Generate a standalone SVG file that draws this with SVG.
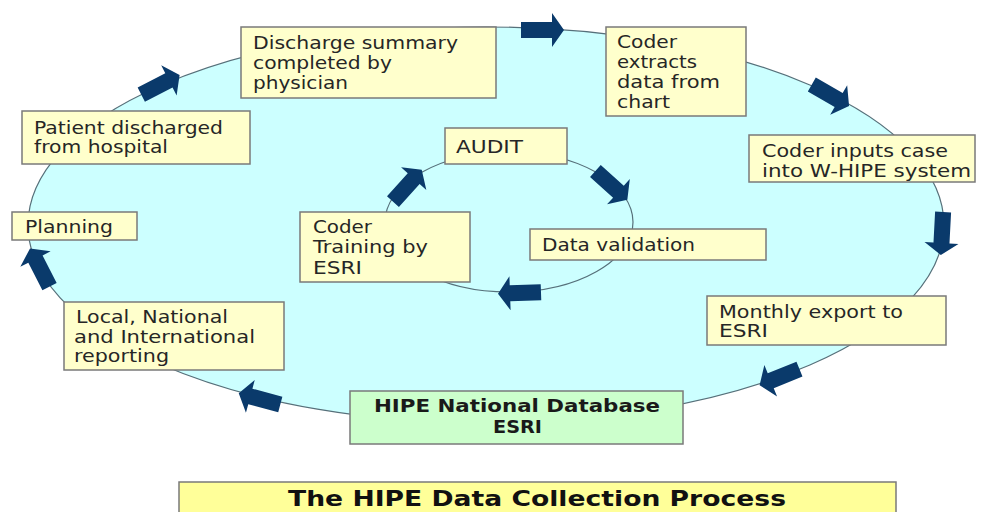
<svg xmlns="http://www.w3.org/2000/svg" width="992" height="512" viewBox="0 0 992 512">
<style>
.box{fill:#FFFFCC;stroke:#7a7a7a;stroke-width:1.5}
.gbox{fill:#CCFFCC;stroke:#7a7a7a;stroke-width:1.5}
.tbox{fill:#FFFF99;stroke:#7a7a7a;stroke-width:1.5}
.t{font-family:"DejaVu Sans",Verdana,sans-serif;font-size:18px;fill:#262626}
.b{font-family:"DejaVu Sans",Verdana,sans-serif;font-size:17px;font-weight:bold;fill:#1a1a1a}
.title{font-family:"DejaVu Sans",Verdana,sans-serif;font-size:22px;font-weight:bold;fill:#111}
.ring{fill:none;stroke:#56707a;stroke-width:1.2}
.arr{fill:#0A3A6B}
</style>
<defs>
<path id="ar" d="M-21,-8 L10,-8 L10,-17 L22,0 L10,17 L10,8 L-21,8 Z"/>
</defs>
<rect width="992" height="512" fill="#ffffff"/>
<ellipse cx="486" cy="225" rx="458" ry="198" fill="#CCFFFF" stroke="#56707a" stroke-width="1.2"/>
<g id="connectors">
<ellipse class="ring" cx="509" cy="222" rx="124" ry="70"/>
<use href="#ar" class="arr" transform="translate(542,30) rotate(0)"/>
<use href="#ar" class="arr" transform="translate(160,85) rotate(-27)"/>
<use href="#ar" class="arr" transform="translate(830,95) rotate(30)"/>
<use href="#ar" class="arr" transform="translate(942,233) rotate(93)"/>
<use href="#ar" class="arr" transform="translate(780,377) rotate(158)"/>
<use href="#ar" class="arr" transform="translate(260,399) rotate(195)"/>
<use href="#ar" class="arr" transform="translate(40,268) rotate(-117)"/>
<use href="#ar" class="arr" transform="translate(611,185) rotate(42)"/>
<use href="#ar" class="arr" transform="translate(520,293) rotate(178)"/>
<use href="#ar" class="arr" transform="translate(407,186) rotate(-48)"/>
</g>
<g id="discharge-summary">
<rect class="box" x="241" y="27" width="255" height="71"/>
<text class="t" x="253" y="49" textLength="205" lengthAdjust="spacingAndGlyphs">Discharge summary</text>
<text class="t" x="253" y="69" textLength="139" lengthAdjust="spacingAndGlyphs">completed by</text>
<text class="t" x="253" y="89" textLength="95" lengthAdjust="spacingAndGlyphs">physician</text>
</g>
<g id="coder-extracts">
<rect class="box" x="606" y="27" width="140" height="89"/>
<text class="t" x="617" y="48" textLength="60" lengthAdjust="spacingAndGlyphs">Coder</text>
<text class="t" x="617" y="68" textLength="80" lengthAdjust="spacingAndGlyphs">extracts</text>
<text class="t" x="617" y="88" textLength="103" lengthAdjust="spacingAndGlyphs">data from</text>
<text class="t" x="617" y="108" textLength="53" lengthAdjust="spacingAndGlyphs">chart</text>
</g>
<g id="patient-discharged">
<rect class="box" x="22" y="111" width="228" height="53"/>
<text class="t" x="34" y="134" textLength="189" lengthAdjust="spacingAndGlyphs">Patient discharged</text>
<text class="t" x="34" y="153" textLength="134" lengthAdjust="spacingAndGlyphs">from hospital</text>
</g>
<g id="coder-inputs">
<rect class="box" x="749" y="135" width="226" height="47"/>
<text class="t" x="762" y="157" textLength="186" lengthAdjust="spacingAndGlyphs">Coder inputs case</text>
<text class="t" x="762" y="177" textLength="209" lengthAdjust="spacingAndGlyphs">into W-HIPE system</text>
</g>
<g id="audit">
<rect class="box" x="445" y="128" width="122" height="36"/>
<text class="t" x="456" y="153" textLength="67" lengthAdjust="spacingAndGlyphs">AUDIT</text>
</g>
<g id="planning">
<rect class="box" x="12" y="212" width="125" height="28"/>
<text class="t" x="25" y="233" textLength="88" lengthAdjust="spacingAndGlyphs">Planning</text>
</g>
<g id="coder-training">
<rect class="box" x="300" y="212" width="170" height="70"/>
<text class="t" x="313" y="233" textLength="59" lengthAdjust="spacingAndGlyphs">Coder</text>
<text class="t" x="313" y="253" textLength="115" lengthAdjust="spacingAndGlyphs">Training by</text>
<text class="t" x="313" y="274" textLength="49" lengthAdjust="spacingAndGlyphs">ESRI</text>
</g>
<g id="data-validation">
<rect class="box" x="530" y="229" width="236" height="31"/>
<text class="t" x="542" y="251" textLength="153" lengthAdjust="spacingAndGlyphs">Data validation</text>
</g>
<g id="monthly-export">
<rect class="box" x="707" y="296" width="239" height="49"/>
<text class="t" x="719" y="318" textLength="184" lengthAdjust="spacingAndGlyphs">Monthly export to</text>
<text class="t" x="719" y="337" textLength="49" lengthAdjust="spacingAndGlyphs">ESRI</text>
</g>
<g id="reporting">
<rect class="box" x="64" y="302" width="220" height="68"/>
<text class="t" x="76" y="323" textLength="152" lengthAdjust="spacingAndGlyphs">Local, National</text>
<text class="t" x="74" y="343" textLength="181" lengthAdjust="spacingAndGlyphs">and International</text>
<text class="t" x="74" y="362" textLength="95" lengthAdjust="spacingAndGlyphs">reporting</text>
</g>
<g id="hipe-database">
<rect class="gbox" x="350" y="391" width="333" height="53"/>
<text class="b" x="374" y="412" textLength="286" lengthAdjust="spacingAndGlyphs">HIPE National Database</text>
<text class="b" x="493" y="433" textLength="49" lengthAdjust="spacingAndGlyphs">ESRI</text>
</g>
<g id="title">
<rect class="tbox" x="179" y="482" width="717" height="40"/>
<text class="title" x="288" y="506" textLength="498" lengthAdjust="spacingAndGlyphs">The HIPE Data Collection Process</text>
</g>
</svg>
